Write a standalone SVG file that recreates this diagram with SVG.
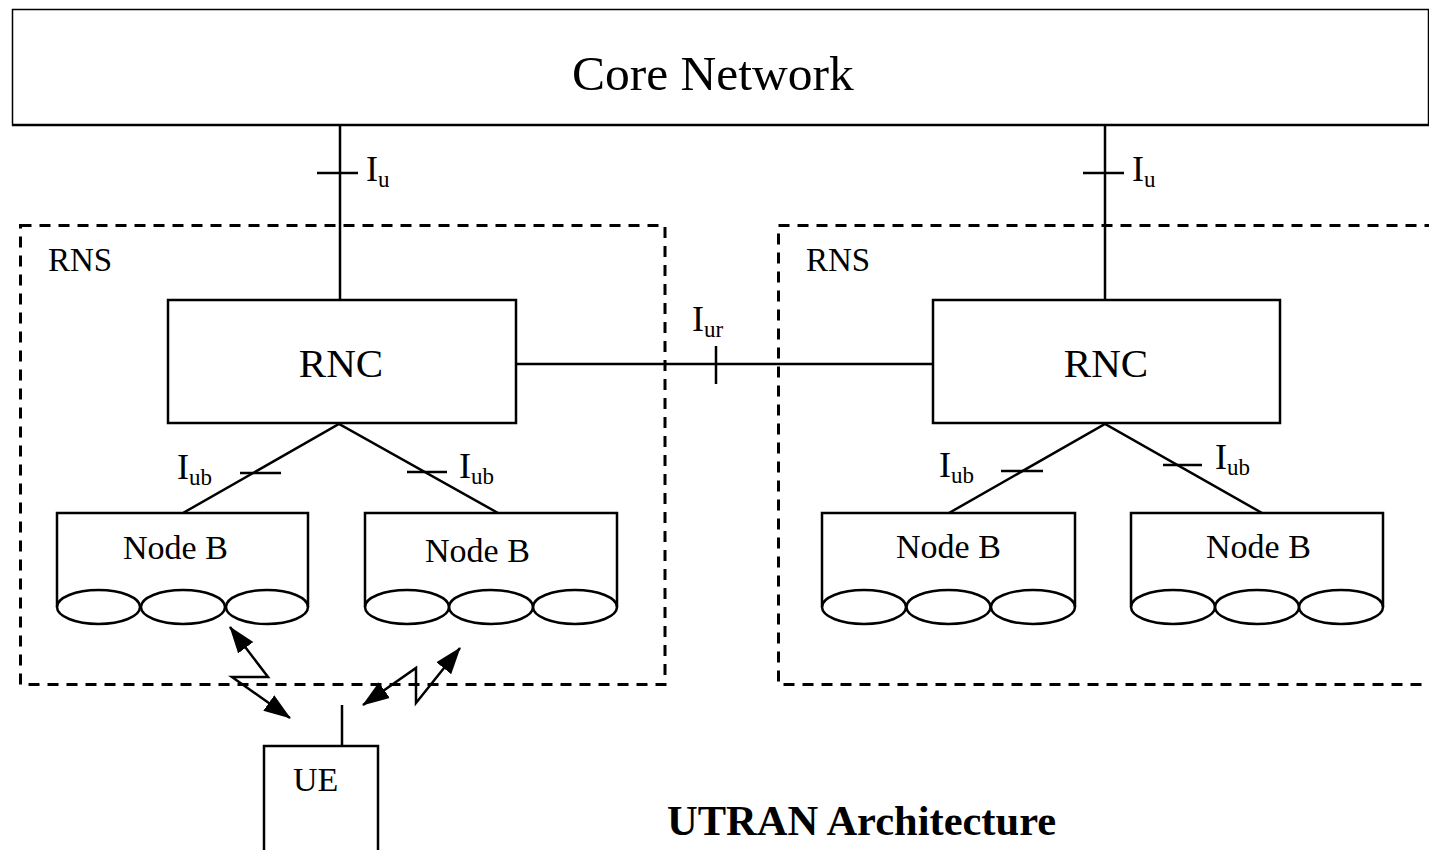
<svg xmlns="http://www.w3.org/2000/svg" width="1429" height="850" viewBox="0 0 1429 850">
<style>
.ln{stroke:#000;stroke-width:2.5;fill:none}
.bx{stroke:#000;stroke-width:2.5;fill:#fff}
.dash{stroke:#000;stroke-width:3;fill:none;stroke-dasharray:11 8}
.t{font-family:"Liberation Serif","Times New Roman",serif;fill:#000}
.lbl{font-size:36px}
.sub{font-size:23px}
.nb{font-size:34px}
</style>
<defs>
<marker id="ah" markerUnits="userSpaceOnUse" markerWidth="30" markerHeight="22" refX="26" refY="10" orient="auto-start-reverse">
<path d="M0,0.5 L27,10 L0,19.5 z" fill="#000"/>
</marker>
</defs>
<rect width="1429" height="850" fill="#fff"/>

<g id="core-network">
<rect x="12.5" y="9.5" width="1416" height="115.5" fill="#fff" stroke="#000" stroke-width="1.5"/>
<line x1="12" y1="125" x2="1429" y2="125" stroke="#000" stroke-width="2.5"/>
<text class="t" x="572" y="90" font-size="49.5">Core Network</text>
</g>

<g id="rns-left">
<rect class="dash" x="20.5" y="225.5" width="644.5" height="459"/>
<text class="t" x="48" y="271" font-size="33">RNS</text>
</g>
<g id="rns-right">
<rect class="dash" x="778.5" y="225.5" width="700" height="459"/>
<text class="t" x="806" y="271" font-size="33">RNS</text>
</g>

<g id="connectors">
<line class="ln" x1="340" y1="125" x2="340" y2="300"/>
<line class="ln" x1="317" y1="173" x2="358" y2="173"/>
<line class="ln" x1="1105" y1="125" x2="1105" y2="300"/>
<line class="ln" x1="1083" y1="173" x2="1124" y2="173"/>
<line class="ln" x1="516" y1="364" x2="933" y2="364"/>
<line class="ln" x1="716" y1="346" x2="716" y2="384"/>
<polyline class="ln" points="183,513 339,424 498,513"/>
<line class="ln" x1="240" y1="473" x2="281" y2="473"/>
<line class="ln" x1="407" y1="472" x2="447" y2="472"/>
<polyline class="ln" points="949,513 1105,424 1262,513"/>
<line class="ln" x1="1001" y1="471" x2="1043" y2="471"/>
<line class="ln" x1="1163" y1="465" x2="1202" y2="465"/>
<polyline class="ln" points="230,627 268,677 232,677 290,718" marker-start="url(#ah)" marker-end="url(#ah)"/>
<polyline class="ln" points="363,705 416,668 416,703 460,648" marker-start="url(#ah)" marker-end="url(#ah)"/>
<line class="ln" x1="342" y1="705" x2="342" y2="746"/>
</g>

<g id="labels">
<text class="t lbl" x="366" y="181">I<tspan class="sub" dy="6">u</tspan></text>
<text class="t lbl" x="1132" y="181">I<tspan class="sub" dy="6">u</tspan></text>
<text class="t lbl" x="692" y="331">I<tspan class="sub" dy="6">ur</tspan></text>
<text class="t lbl" x="177" y="479">I<tspan class="sub" dy="6">ub</tspan></text>
<text class="t lbl" x="459" y="478">I<tspan class="sub" dy="6">ub</tspan></text>
<text class="t lbl" x="939" y="477">I<tspan class="sub" dy="6">ub</tspan></text>
<text class="t lbl" x="1215" y="469">I<tspan class="sub" dy="6">ub</tspan></text>
</g>

<g id="rnc-left">
<rect class="bx" x="168" y="300" width="348" height="123"/>
<text class="t" x="341" y="377" font-size="41" text-anchor="middle">RNC</text>
</g>
<g id="rnc-right">
<rect class="bx" x="933" y="300" width="347" height="123"/>
<text class="t" x="1106" y="377" font-size="41" text-anchor="middle">RNC</text>
</g>

<g id="nodeb-1">
<path class="ln" d="M57,607 V513 H308 V607"/>
<ellipse class="ln" cx="98.5" cy="607" rx="41.5" ry="17"/>
<ellipse class="ln" cx="183" cy="607" rx="42" ry="17"/>
<ellipse class="ln" cx="267" cy="607" rx="41" ry="17"/>
<text class="t nb" x="123" y="559">Node B</text>
</g>
<g id="nodeb-2">
<path class="ln" d="M365,607 V513 H617 V607"/>
<ellipse class="ln" cx="407" cy="607" rx="42" ry="17"/>
<ellipse class="ln" cx="491" cy="607" rx="42" ry="17"/>
<ellipse class="ln" cx="575" cy="607" rx="42" ry="17"/>
<text class="t nb" x="425" y="562">Node B</text>
</g>
<g id="nodeb-3">
<path class="ln" d="M822,607 V513 H1075 V607"/>
<ellipse class="ln" cx="864" cy="607" rx="42" ry="17"/>
<ellipse class="ln" cx="948.5" cy="607" rx="42" ry="17"/>
<ellipse class="ln" cx="1033" cy="607" rx="42" ry="17"/>
<text class="t nb" x="896" y="558">Node B</text>
</g>
<g id="nodeb-4">
<path class="ln" d="M1131,607 V513 H1383 V607"/>
<ellipse class="ln" cx="1173" cy="607" rx="42" ry="17"/>
<ellipse class="ln" cx="1257" cy="607" rx="42" ry="17"/>
<ellipse class="ln" cx="1341" cy="607" rx="42" ry="17"/>
<text class="t nb" x="1206" y="558">Node B</text>
</g>

<g id="ue">
<rect class="bx" x="264" y="746" width="114" height="106"/>
<text class="t" x="293" y="791" font-size="34">UE</text>
</g>

<text class="t" x="667" y="835" font-size="42.5" font-weight="bold">UTRAN Architecture</text>
</svg>
